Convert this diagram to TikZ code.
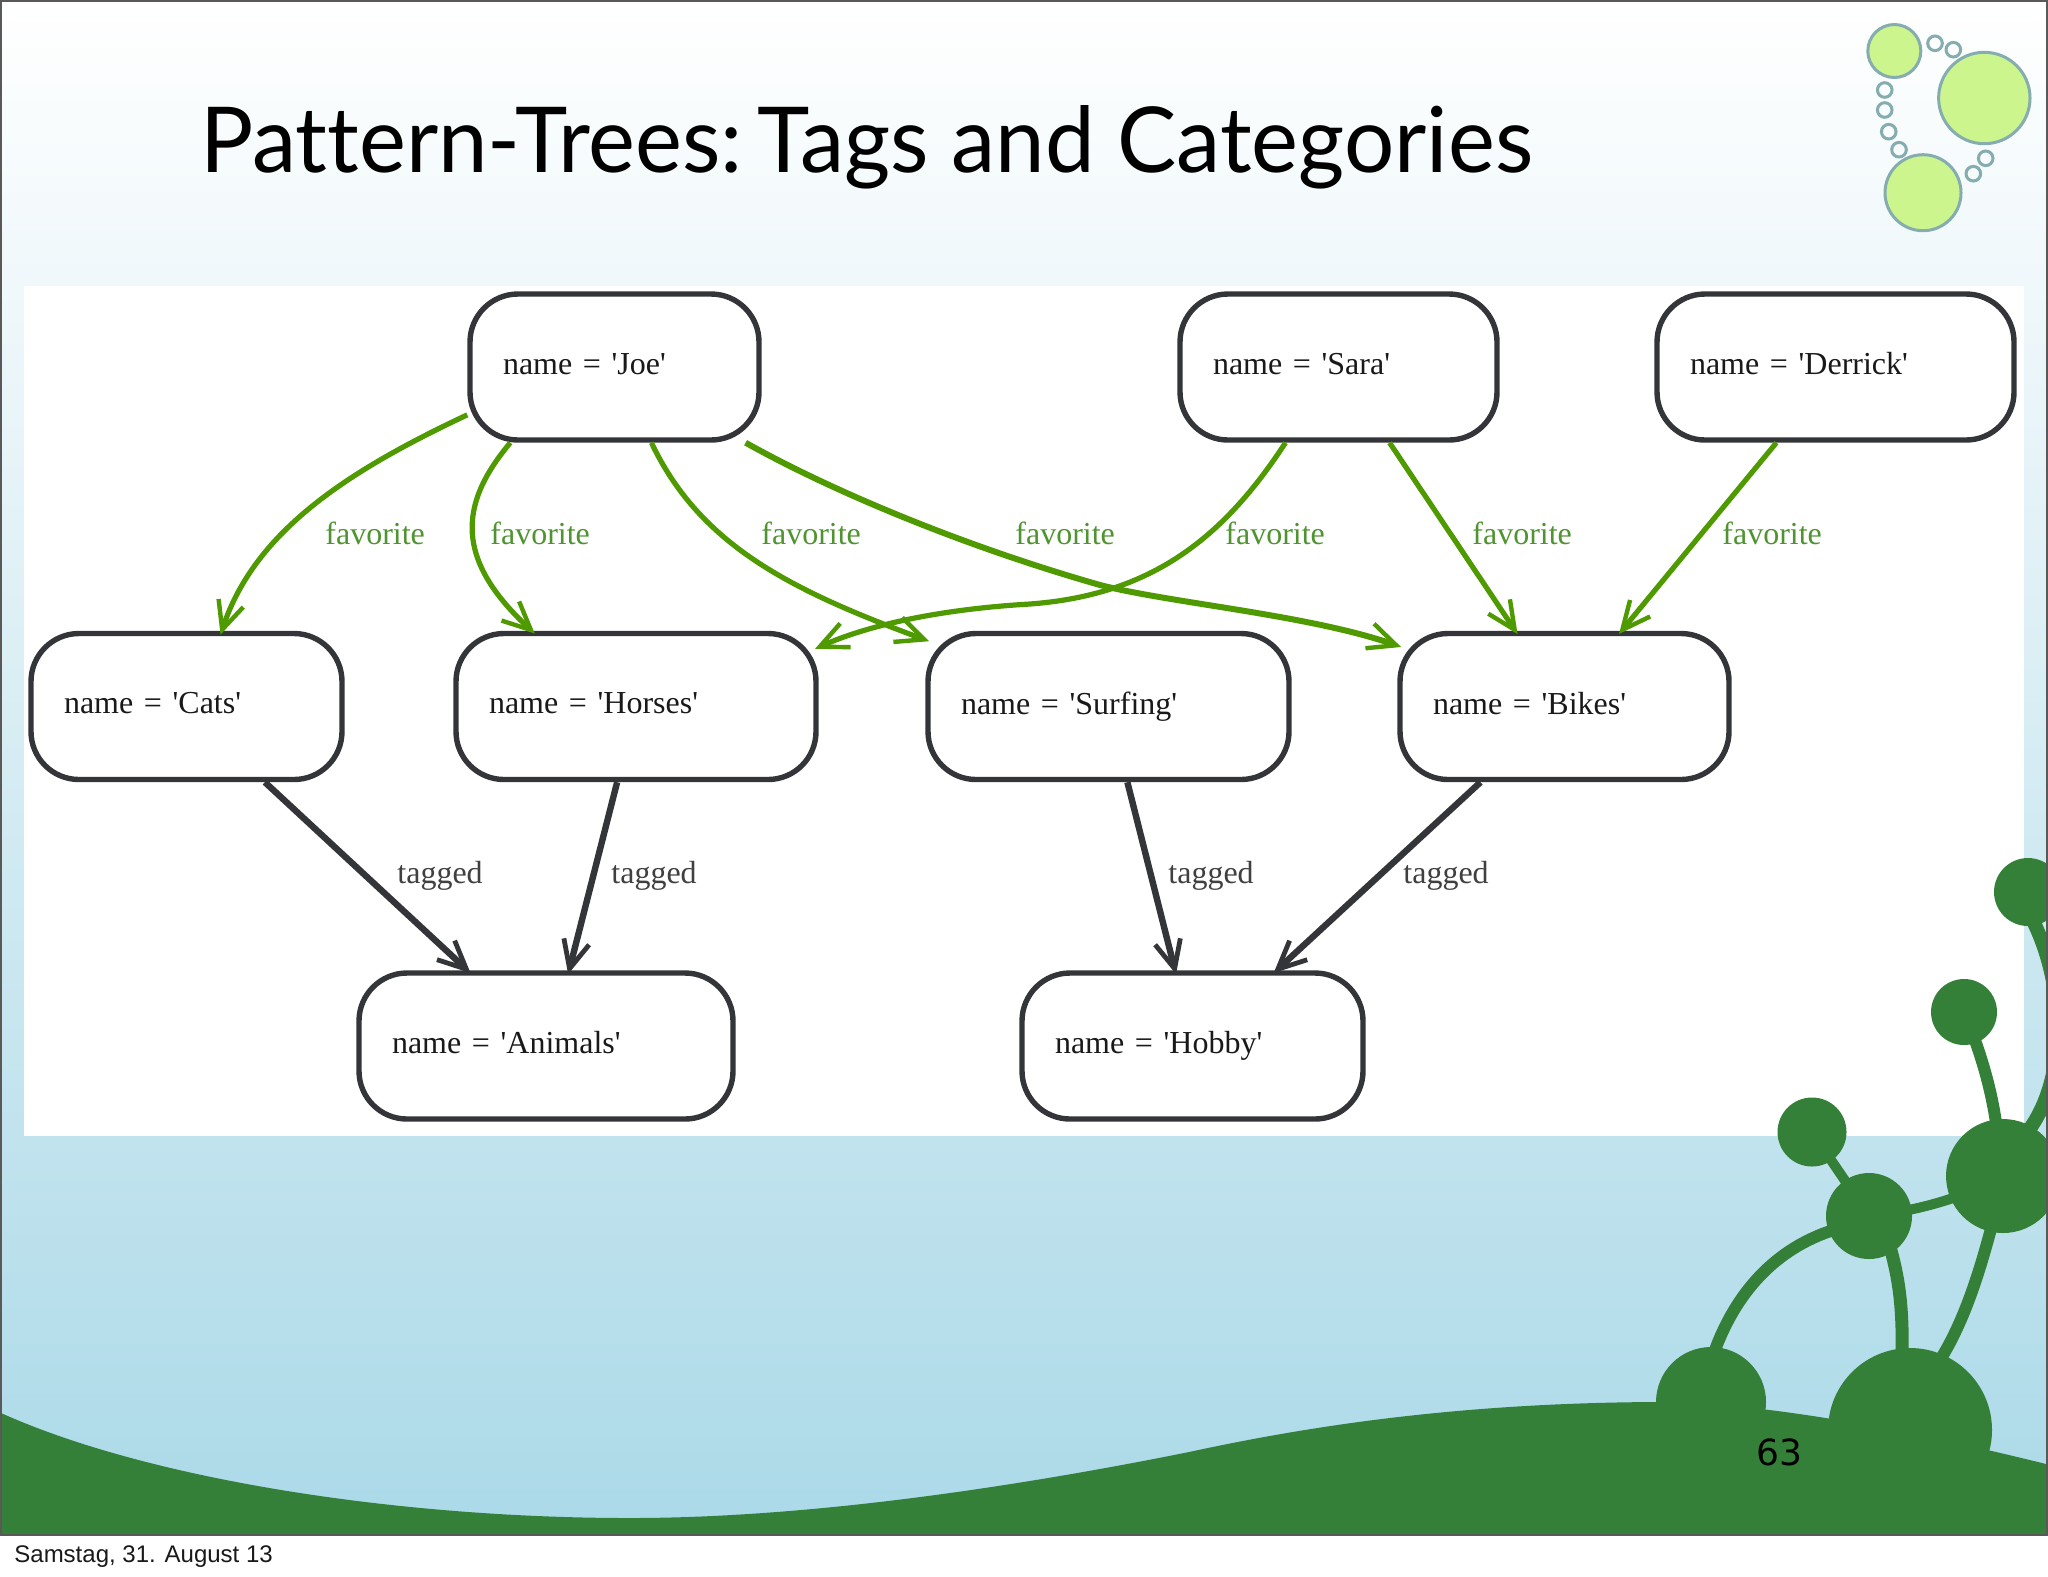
\documentclass[tikz,border=0pt]{standalone}
\usepackage{fontspec}
\usetikzlibrary{arrows.meta}
\newfontfamily\graphfont{Liberation Serif}
\newfontfamily\titlefont[Ligatures=NoCommon,FakeStretch=0.975]{Lato}
\newfontfamily\footfont{Liberation Sans}
\newfontfamily\numfont{DejaVu Sans}
\definecolor{edgegreen}{HTML}{4F9A00}
\definecolor{labelgreen}{HTML}{4F9430}
\definecolor{darkline}{HTML}{333538}
\definecolor{ground}{HTML}{358038}
\definecolor{skyblue}{HTML}{ABD9E8}
\definecolor{lime}{HTML}{CCF58E}
\definecolor{ringcol}{HTML}{85ADB0}
\tikzset{
  x=0.5pt,y=-0.5pt,
  roundbox/.style={draw=darkline,line width=2.7pt,rounded corners=24pt,fill=white,
    minimum height=73pt,inner ysep=0pt,inner xsep=16.5pt,text width=#1*0.5pt-33pt,align=left,
    font=\graphfont\fontsize{16}{19}\selectfont,text=black!90,
    execute at begin node={\vphantom{g'}}},
  favedge/.style={edgegreen,line width=2.6pt,shorten >=-2pt,-{Straight Barb[length=14pt,width=13pt,line width=2.2pt]}},
  tagedge/.style={darkline,line width=3.2pt,shorten >=-2pt,-{Straight Barb[length=14pt,width=13pt,line width=2.4pt]}},
  favlabel/.style={anchor=base west,inner sep=0pt,text=labelgreen,font=\graphfont\fontsize{16}{19}\selectfont},
  taglabel/.style={anchor=base west,inner sep=0pt,text=black!75,font=\graphfont\fontsize{16}{19}\selectfont},
  bigdot/.style={fill=lime,draw=ringcol,line width=1.5pt},
  ringdot/.style={draw=ringcol,line width=1.5pt},
  stem/.style={draw=ground,line cap=round},
}
\begin{document}
\begin{tikzpicture}
\useasboundingbox (0,0) rectangle (2048,1576);
\fill[white] (0,0) rectangle (2048,1576);
% slide background
\shade[top color=white,bottom color=skyblue] (1,1) rectangle (2047,1535);
% image panel
\fill[white] (24,286) rectangle (2024,1136);
\begin{scope}
\clip (1,1) rectangle (2047,1535);
% ground
\fill[ground] (1,1413) .. controls (150,1480) and (400,1518) .. (630,1518)
  .. controls (800,1518) and (1000,1490) .. (1189,1452)
  .. controls (1300,1428) and (1450,1403) .. (1655,1402)
  .. controls (1780,1402) and (1950,1440) .. (2050,1465) -- (2050,1536) -- (1,1536) -- cycle;
% stems
\draw[stem,line width=6pt] (1715,1350) .. controls (1738,1288) and (1780,1245) .. (1840,1228);
\draw[stem,line width=5pt] (1869,1216) -- (1812,1132);
\draw[stem,line width=5pt] (1869,1216) .. controls (1910,1212) and (1960,1200) .. (2003,1176);
\draw[stem,line width=6.5pt] (1888,1240) .. controls (1900,1280) and (1903,1310) .. (1902,1360);
\draw[stem,line width=6pt] (1992,1225) .. controls (1980,1270) and (1965,1320) .. (1940,1360);
\draw[stem,line width=6pt] (1964,1012) .. controls (1980,1050) and (1992,1090) .. (1997,1130);
\draw[stem,line width=7pt] (2030,915) .. controls (2065,980) and (2070,1080) .. (2025,1135);
% blobs
\fill[ground] (1711,1402) circle[radius=55];
\fill[ground] (1910,1430) circle[radius=82];
\fill[ground] (1869,1216) circle[radius=43];
\fill[ground] (1812,1132) circle[radius=34.5];
\fill[ground] (2003,1176) circle[radius=57];
\fill[ground] (1964,1012) circle[radius=33];
\fill[ground] (2028,892) circle[radius=34];
\end{scope}
% frame
\draw[black!65,line width=1.1pt] (1,1) rectangle (2047,1535);
% logo
\path[bigdot] (1894.3,51) circle[radius=26.5];
\path[bigdot] (1984.3,98) circle[radius=45.7];
\path[bigdot] (1923,192.7) circle[radius=38];
\path[ringdot] (1935,43.3) circle[radius=7.3];
\path[ringdot] (1953.3,49.7) circle[radius=7.3];
\path[ringdot] (1884.7,90) circle[radius=7.3];
\path[ringdot] (1884.7,110) circle[radius=7.3];
\path[ringdot] (1888.7,131.7) circle[radius=7.3];
\path[ringdot] (1899,149.7) circle[radius=7.3];
\path[ringdot] (1985.7,158.3) circle[radius=7.3];
\path[ringdot] (1973.3,173.7) circle[radius=7.3];
% texts of the slide
\node[anchor=base west,inner sep=0pt,font=\titlefont\fontsize{45.5}{54}\selectfont] (title) at (200,172) {Pattern-Trees:\hspace{-.17em} Tags and Categories};
\node[anchor=base west,inner sep=0pt,font=\numfont\fontsize{18}{21}\selectfont] (pagenum) at (1756,1465) {63};
\node[anchor=base west,inner sep=0pt,font=\footfont\fontsize{12}{14}\selectfont,text=black!90] (footer) at (14,1562) {Samstag, 31. August 13};
% nodes
\node[roundbox=289] (joe) at (614.5,367) {name = 'Joe'};
\node[roundbox=317] (sara) at (1338.5,367) {name = 'Sara'};
\node[roundbox=357] (derrick) at (1835.5,367) {name = 'Derrick'};
\node[roundbox=311] (cats) at (186.5,706.5) {name = 'Cats'};
\node[roundbox=360] (horses) at (636,706.5) {name = 'Horses'};
\node[roundbox=361] (surfing) at (1108.5,706.5) {name = 'Surfing'};
\node[roundbox=329] (bikes) at (1564.5,706.5) {name = 'Bikes'};
\node[roundbox=374] (animals) at (546,1046) {name = 'Animals'};
\node[roundbox=341] (hobby) at (1192.5,1046) {name = 'Hobby'};
% favorite edges
\draw[favedge] (joe.198.7) .. controls (350,470) and (255,530) .. (cats.65.6);
\draw[favedge] (joe.216.7) .. controls (458,505) and (455,560) .. (horses.144.4);
\draw[favedge] (joe.296.6) .. controls (700,545) and (790,590) .. (surfing.160.9);
\draw[favedge,line width=3pt] (joe.330.1) .. controls (830,490) and (960,545) .. (1100,585)
  .. controls (1170,603) and (1310,615) .. (bikes.160.4);
\draw[favedge] (sara.235.9) .. controls (1222,540) and (1150,595) .. (1030,604)
  .. controls (960,608) and (880,620) .. (horses.18);
\draw[favedge] (sara.304.1) -- (bikes.123.5);
\draw[favedge] (derrick.232.3) -- (bikes.53.7);
% tagged edges
\draw[tagedge] (cats.316.5) -- (animals.136.9);
\draw[tagedge] (horses.256.7) -- (animals.73.2);
\draw[tagedge] (surfing.284.1) -- (hobby.103.1);
\draw[tagedge] (bikes.222.4) -- (hobby.42);
% edge labels
\node[favlabel] (f1) at (325,544) {favorite};
\node[favlabel] (f2) at (490,544) {favorite};
\node[favlabel] (f3) at (761,544) {favorite};
\node[favlabel] (f4) at (1015,544) {favorite};
\node[favlabel] (f5) at (1225,544) {favorite};
\node[favlabel] (f6) at (1472,544) {favorite};
\node[favlabel] (f7) at (1722,544) {favorite};
\node[taglabel] (t1) at (397,883) {tagged};
\node[taglabel] (t2) at (611,883) {tagged};
\node[taglabel] (t3) at (1168,883) {tagged};
\node[taglabel] (t4) at (1403,883) {tagged};
\end{tikzpicture}
\end{document}
